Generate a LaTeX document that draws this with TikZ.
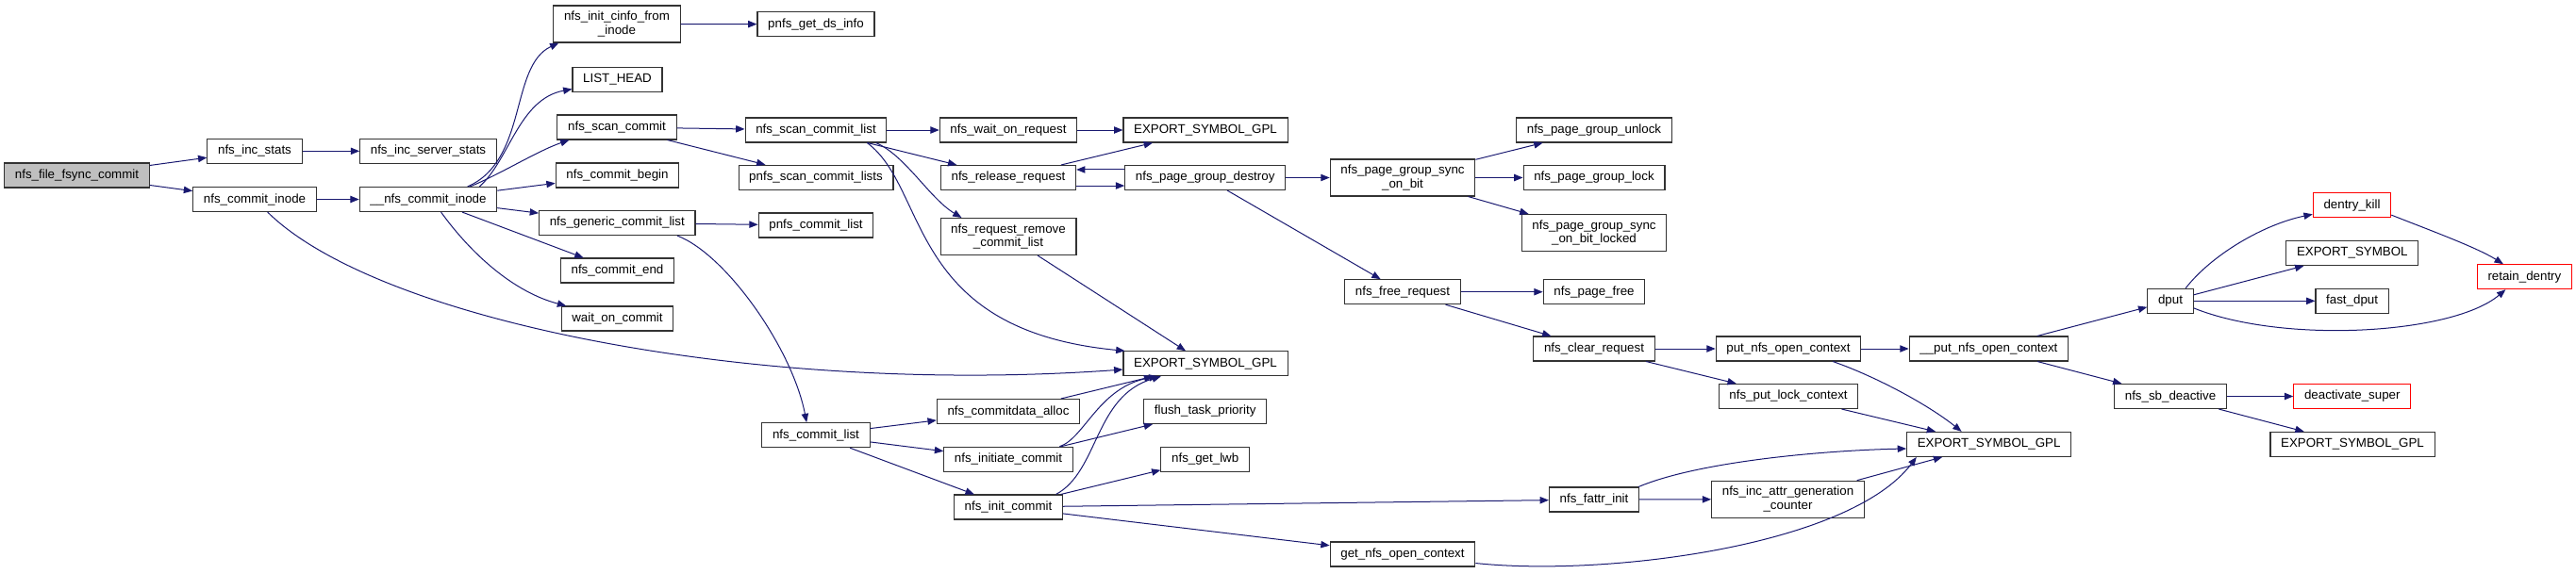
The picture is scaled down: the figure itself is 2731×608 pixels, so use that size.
\documentclass[tikz,border=0pt]{standalone}
\usepackage{fontspec}
\setmainfont{Liberation Sans}
\usepackage{xcolor}
\usepackage{tikz}
\usetikzlibrary{arrows.meta}
\definecolor{callblue}{RGB}{25,25,112}
\definecolor{rootgray}{RGB}{191,191,191}

\tikzset{
  fn/.style={draw=black!80, line width=0.8pt, fill=white, font=\fontsize{10}{11}\selectfont,
    inner xsep=8.4pt, inner ysep=4.5pt, minimum height=19.5pt, align=center},
  fnroot/.style={fn, fill=rootgray},
  fnred/.style={fn, draw=red},
  call/.style={-{Triangle[length=7pt,width=5.5pt]}, color=callblue, line width=0.75pt},
}

\begin{document}
\begin{tikzpicture}[x=0.75pt, y=-0.75pt]
\useasboundingbox (0,0) rectangle (2731,608);
% functions
\node[fnroot] (fsync) at (81.5,186) {nfs\_file\_fsync\_commit};
\node[fn] (incstats) at (270,160.3) {nfs\_inc\_stats};
\node[fn] (incserver) at (454,160.3) {nfs\_inc\_server\_stats};
\node[fn] (commitinode) at (270,211.5) {nfs\_commit\_inode};
\node[fn] (nfscommit) at (454,211.5) {\_\_nfs\_commit\_inode};
\node[fn] (initcinfo) at (654,25.5) {nfs\_init\_cinfo\_from\\\_inode};
\node[fn] (listhead) at (654.5,84.3) {LIST\_HEAD};
\node[fn] (scancommit) at (654,135) {nfs\_scan\_commit};
\node[fn] (commitbegin) at (654.5,186) {nfs\_commit\_begin};
\node[fn] (genericlist) at (654.3,236.5) {nfs\_generic\_commit\_list};
\node[fn] (commitend) at (654.5,287) {nfs\_commit\_end};
\node[fn] (waitcommit) at (654.5,338) {wait\_on\_commit};
\node[fn] (getdsinfo) at (865,25.7) {pnfs\_get\_ds\_info};
\node[fn] (scanlist) at (865,138) {nfs\_scan\_commit\_list};
\node[fn] (scanlists) at (865,188.3) {pnfs\_scan\_commit\_lists};
\node[fn] (pnfslist) at (865,239) {pnfs\_commit\_list};
\node[fn] (commitlist) at (865,461.7) {nfs\_commit\_list};
\node[fn] (waitrequest) at (1069,138) {nfs\_wait\_on\_request};
\node[fn] (releasereq) at (1069,188.5) {nfs\_release\_request};
\node[fn] (removelist) at (1069,251) {nfs\_request\_remove\\\_commit\_list};
\node[fn] (dataalloc) at (1069,436.5) {nfs\_commitdata\_alloc};
\node[fn] (initiate) at (1069,487.3) {nfs\_initiate\_commit};
\node[fn] (initcommit) at (1069,538) {nfs\_init\_commit};
\node[fn] (gplA) at (1278,138) {EXPORT\_SYMBOL\_GPL};
\node[fn] (destroy) at (1277.7,188.5) {nfs\_page\_group\_destroy};
\node[fn] (gplB) at (1278,385.8) {EXPORT\_SYMBOL\_GPL};
\node[fn] (flushprio) at (1277.7,436.5) {flush\_task\_priority};
\node[fn] (getlwb) at (1277.7,487.3) {nfs\_get\_lwb};
\node[fn] (syncbit) at (1487,188.5) {nfs\_page\_group\_sync\\\_on\_bit};
\node[fn] (freereq) at (1487,309.7) {nfs\_free\_request};
\node[fn] (getctx) at (1487,588) {get\_nfs\_open\_context};
\node[fn] (unlock) at (1690,138) {nfs\_page\_group\_unlock};
\node[fn] (grouplock) at (1690,188.5) {nfs\_page\_group\_lock};
\node[fn] (synclocked) at (1690,247) {nfs\_page\_group\_sync\\\_on\_bit\_locked};
\node[fn] (pagefree) at (1690,309.7) {nfs\_page\_free};
\node[fn] (clearreq) at (1690,370) {nfs\_clear\_request};
\node[fn] (fattrinit) at (1690,530) {nfs\_fattr\_init};
\node[fn] (putctx) at (1896,370) {put\_nfs\_open\_context};
\node[fn] (putlock) at (1896,420.5) {nfs\_put\_lock\_context};
\node[fn] (incattr) at (1895.5,529.7) {nfs\_inc\_attr\_generation\\\_counter};
\node[fn] (rawputctx) at (2108.4,370) {\_\_put\_nfs\_open\_context};
\node[fn] (gplC) at (2108.6,471.4) {EXPORT\_SYMBOL\_GPL};
\node[fn] (dput) at (2301,319.3) {dput};
\node[fn] (sbdeactive) at (2301,420.5) {nfs\_sb\_deactive};
\node[fnred] (dentrykill) at (2493.5,217.7) {dentry\_kill};
\node[fn] (exportsym) at (2493.8,268.5) {EXPORT\_SYMBOL};
\node[fn] (fastdput) at (2493.6,319.3) {fast\_dput};
\node[fnred] (deactsuper) at (2493.8,420.5) {deactivate\_super};
\node[fn] (gplD) at (2494,471.4) {EXPORT\_SYMBOL\_GPL};
\node[fnred] (retaindentry) at (2676.4,293.7) {retain\_dentry};
% calls
\draw[call] (fsync) -- (incstats);
\draw[call] (fsync) -- (commitinode);
\draw[call] (incstats) -- (incserver);
\draw[call] (commitinode) -- (nfscommit);
\draw[call] (commitinode) .. controls (400,340) and (800,420) .. (gplB);
\draw[call] (nfscommit.18) .. controls (560,170) and (540,70) .. (initcinfo.198);
\draw[call] (nfscommit.14) .. controls (540,170) and (550,105) .. (listhead.192);
\draw[call] (nfscommit.17) .. controls (530,185) and (570,160) .. (scancommit.195);
\draw[call] (nfscommit) -- (commitbegin);
\draw[call] (nfscommit) -- (genericlist);
\draw[call] (nfscommit) -- (commitend);
\draw[call] (nfscommit.-45) .. controls (500,270) and (545,310) .. (waitcommit.166);
\draw[call] (initcinfo) -- (getdsinfo);
\draw[call] (scancommit) -- (scanlist);
\draw[call] (scancommit) -- (scanlists);
\draw[call] (genericlist) -- (pnfslist);
\draw[call] (genericlist.-12) .. controls (770,270) and (840,370) .. (commitlist.126);
\draw[call] (scanlist) -- (waitrequest);
\draw[call] (scanlist) -- (releasereq);
\draw[call] (scanlist.-12) .. controls (960,165) and (985,210) .. (removelist.158);
\draw[call] (scanlist.-14) .. controls (985,200) and (960,350) .. (gplB.171);
\draw[call] (waitrequest) -- (gplA);
\draw[call] (releasereq) -- (gplA);
\draw[call] ([yshift=-6.4pt]releasereq.east) -- ([yshift=-6.4pt]destroy.west);
\draw[call] ([yshift=6.4pt]destroy.west) -- ([yshift=6.4pt]releasereq.east);
\draw[call] (removelist) -- (gplB);
\draw[call] (commitlist) -- (dataalloc);
\draw[call] (commitlist) -- (initiate);
\draw[call] (commitlist) -- (initcommit);
\draw[call] (dataalloc) -- (gplB);
\draw[call] (initiate.14) .. controls (1150,465) and (1165,410) .. (gplB.195);
\draw[call] (initiate) -- (flushprio);
\draw[call] (initcommit.15) .. controls (1165,500) and (1160,420) .. (gplB.196);
\draw[call] (initcommit) -- (getlwb);
\draw[call] (initcommit) -- (fattrinit);
\draw[call] (initcommit) -- (getctx);
\draw[call] (destroy) -- (syncbit);
\draw[call] (destroy) -- (freereq);
\draw[call] (syncbit) -- (unlock);
\draw[call] (syncbit) -- (grouplock);
\draw[call] (syncbit) -- (synclocked);
\draw[call] (freereq) -- (pagefree);
\draw[call] (freereq) -- (clearreq);
\draw[call] (clearreq) -- (putctx);
\draw[call] (clearreq) -- (putlock);
\draw[call] (putctx) -- (rawputctx);
\draw[call] (putctx.-16) .. controls (1990,400) and (2045,430) .. (gplC.155);
\draw[call] (putlock) -- (gplC);
\draw[call] (fattrinit.16) .. controls (1800,490) and (1930,478) .. (gplC.183);
\draw[call] (fattrinit) -- (incattr);
\draw[call] (incattr) -- (gplC);
\draw[call] (getctx.-7) .. controls (1700,612) and (1960,580) .. (gplC.190);
\draw[call] (rawputctx) -- (dput);
\draw[call] (rawputctx) -- (sbdeactive);
\draw[call] (dput.40) .. controls (2345,270) and (2400,238) .. (dentrykill.193);
\draw[call] (dput) -- (exportsym);
\draw[call] (dput) -- (fastdput);
\draw[call] (dput.-17) .. controls (2420,365) and (2600,355) .. (retaindentry.214);
\draw[call] (dentrykill.-14) .. controls (2570,242) and (2625,262) .. (retaindentry.149);
\draw[call] (sbdeactive) -- (deactsuper);
\draw[call] (sbdeactive) -- (gplD);
\end{tikzpicture}
\end{document}
